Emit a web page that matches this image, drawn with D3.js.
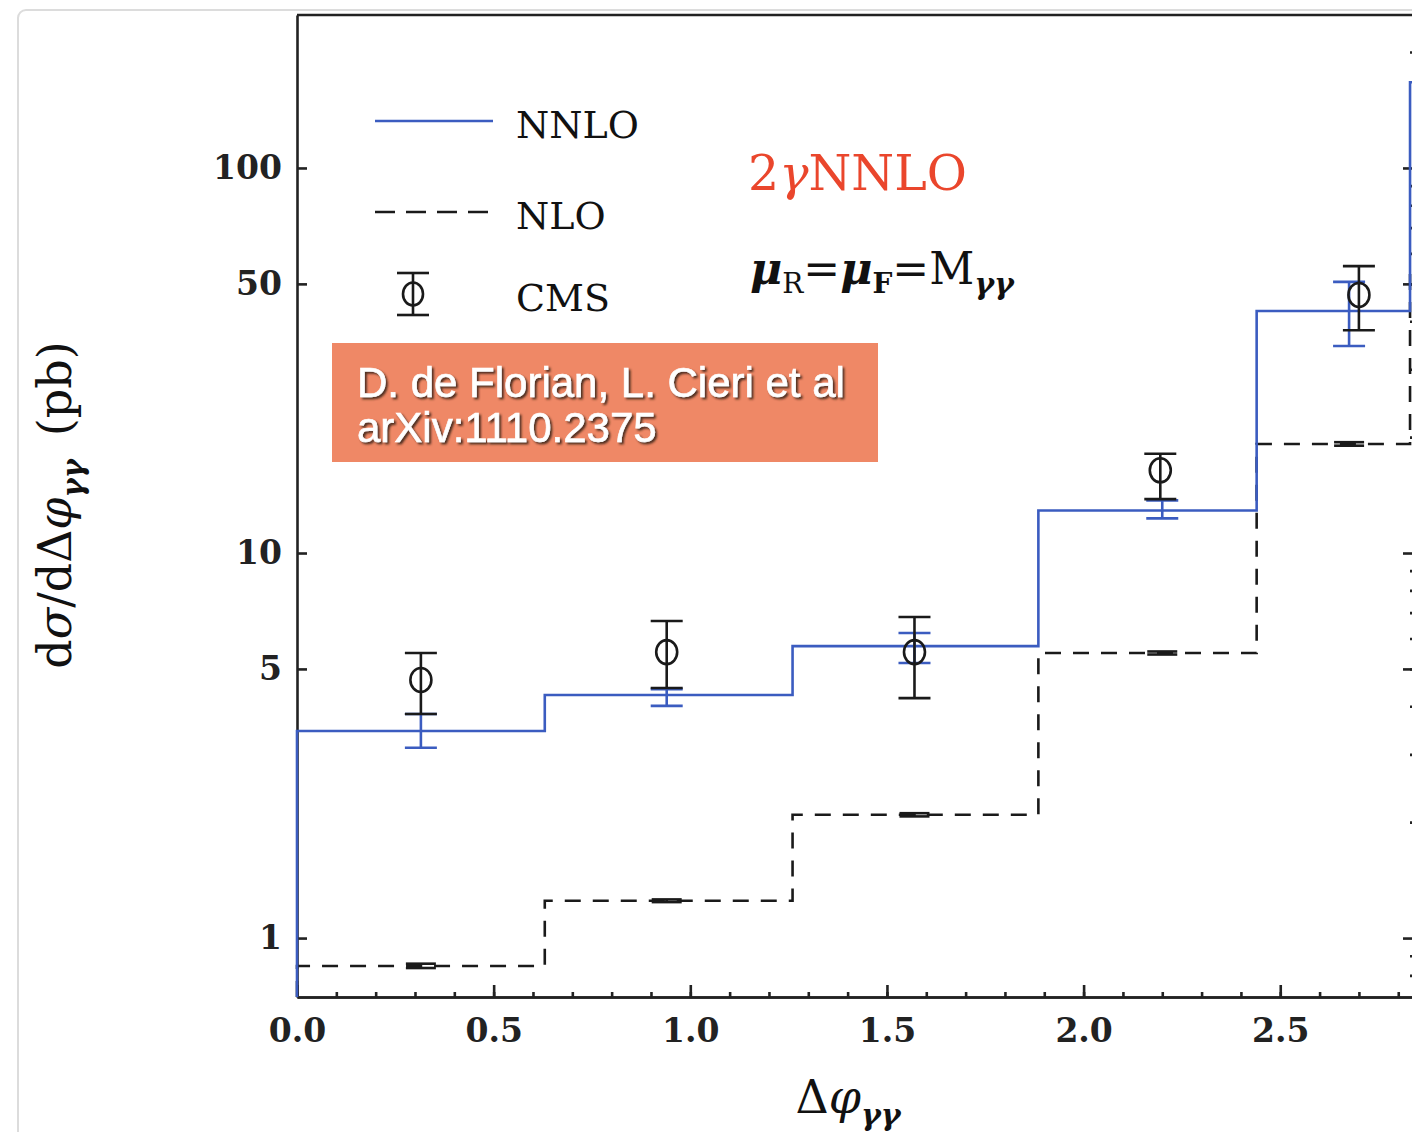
<!DOCTYPE html>
<html>
<head>
<meta charset="utf-8">
<script src="https://cdn.jsdelivr.net/npm/d3@7"></script>
<style>
  body { margin: 0; background: #fff; }
  svg { display: block; }
  .tick text { font-family: "DejaVu Serif", serif; font-weight: bold; font-size: 33px; fill: #222; }
  .serif { font-family: "DejaVu Serif", serif; fill: #111; }
</style>
</head>
<body>
<script>
// bin edges in delta-phi, and the two theory histograms (pb)
var binEdges = [0, 0.63, 1.26, 1.885, 2.44, 2.83, 3.1416];
var nnlo = [3.45, 4.28, 5.73, 12.9, 42.5, 167];
var nlo = [0.846, 1.25, 2.09, 5.5, 19.2, 56];

// theory error bars (scale variation)
var nnloErrX = [0.315, 0.94, 1.57, 2.2, 2.675];
var nnloErrLo = [3.12, 4.01, 5.18, 12.3, 34.5];
var nnloErrHi = [3.82, 4.43, 6.20, 13.7, 50.6];
var nloErrX = [0.315, 0.94, 1.57, 2.2, 2.675];
var nloErrLo = [0.836, 1.24, 2.07, 5.45, 19.0];
var nloErrHi = [0.858, 1.26, 2.11, 5.55, 19.4];

// CMS data points
var cmsX = [0.315, 0.94, 1.57, 2.195, 2.70];
var cmsY = [4.68, 5.53, 5.53, 16.4, 46.8];
var cmsLo = [3.82, 4.46, 4.20, 13.8, 37.9];
var cmsHi = [5.50, 6.66, 6.82, 18.1, 55.6];

var xMajor = [0, 0.5, 1.0, 1.5, 2.0, 2.5];
var yMajor = [1, 5, 10, 50, 100];
var legendLabels = ["NNLO", "NLO", "CMS"];

function run_d3 () {

    var W = 1412, H = 1132;
    var margin = {left: 297, top: 15, right: -1, bottom: 135};
    var pw = W - margin.left - margin.right,
        ph = H - margin.top - margin.bottom;

    var blue = "#3b5cc0", ink = "#1a1a1a";

    var svg = d3.select("body").append("svg")
        .attr("width", W)
        .attr("height", H);

    // faint slide frame behind the figure
    svg.append("rect")
        .attr("x", 18).attr("y", 10)
        .attr("width", W + 40).attr("height", H + 40)
        .attr("rx", 8)
        .attr("fill", "#fff")
        .attr("stroke", "#dcdcdc")
        .attr("stroke-width", 2);

    var defs = svg.append("defs");
    defs.append("clipPath").attr("id", "plotclip")
        .append("rect").attr("x", -3).attr("width", pw + 3).attr("height", ph);
    var f = defs.append("filter").attr("id", "shadow")
        .attr("x", "-10%").attr("y", "-20%").attr("width", "130%").attr("height", "160%");
    f.append("feDropShadow")
        .attr("dx", 2).attr("dy", 2).attr("stdDeviation", 1.3)
        .attr("flood-color", "#3a2018").attr("flood-opacity", 0.9);

    var g = svg.append("g")
        .attr("transform", "translate(" + margin.left + "," + margin.top + ")");

    // 1 unit of delta-phi is ~393 px, the picture is cut off on the right
    var x = d3.scaleLinear().domain([0, pw / 393.3]).range([0, pw]);
    var y = d3.scaleLog().domain([0.703, 249.6]).range([ph, 0]);

    // axes first, the histograms are drawn over them
    g.append("g")
        .attr("transform", "translate(0," + ph + ")")
        .call(d3.axisBottom(x).tickValues(xMajor)
            .tickFormat(d3.format(".1f"))
            .tickSizeInner(-12).tickSizeOuter(0).tickPadding(22));
    g.append("g")
        .attr("transform", "translate(0," + ph + ")")
        .call(d3.axisBottom(x).tickValues(d3.range(0, 2.85, 0.1))
            .tickFormat("").tickSizeInner(-5).tickSizeOuter(0));

    g.append("g")
        .call(d3.axisLeft(y).tickValues(yMajor)
            .tickFormat(d3.format("d"))
            .tickSizeInner(-10).tickSizeOuter(0).tickPadding(15));

    var minorY = [];
    [0.1, 1, 10, 100].forEach(function (dec) {
        d3.range(2, 10).forEach(function (k) {
            var v = dec * k;
            if (v > y.domain()[0] && v < y.domain()[1]) minorY.push(v);
        });
    });
    var right = g.append("g").attr("transform", "translate(" + pw + ",0)");
    right.call(d3.axisRight(y).tickValues(yMajor).tickFormat("")
        .tickSizeInner(-10).tickSizeOuter(0));
    right.append("g").call(d3.axisRight(y).tickValues(minorY).tickFormat("")
        .tickSizeInner(-3).tickSizeOuter(0));

    g.append("line")
        .attr("x1", 0).attr("x2", pw)
        .attr("y1", 0).attr("y2", 0);

    g.selectAll(".domain, .tick line, g > line")
        .attr("stroke", "#222")
        .attr("stroke-width", 2.6);

    // histograms
    var line = d3.line()
        .x(function (d) { return x(d[0]); })
        .y(function (d) { return y(d[1]); })
        .curve(d3.curveStepAfter);

    function stepPoints(vals) {
        var pts = [[binEdges[0], y.domain()[0]]];
        vals.forEach(function (v, i) { pts.push([binEdges[i], v]); });
        pts.push([binEdges[binEdges.length - 1], vals[vals.length - 1]]);
        return pts;
    }

    var plot = g.append("g").attr("clip-path", "url(#plotclip)");

    plot.append("path")
        .attr("d", line(stepPoints(nlo)))
        .attr("fill", "none")
        .attr("stroke", ink)
        .attr("stroke-width", 2.6)
        .attr("stroke-dasharray", "16,12");

    plot.append("path")
        .attr("d", line(stepPoints(nnlo)))
        .attr("fill", "none")
        .attr("stroke", blue)
        .attr("stroke-width", 2.6);

    // error bars
    function errorBars(xs, lo, hi, color, capW) {
        var eb = plot.append("g").attr("stroke", color).attr("stroke-width", 2.6);
        xs.forEach(function (xv, i) {
            var cx = x(xv);
            eb.append("line")
                .attr("x1", cx).attr("x2", cx)
                .attr("y1", y(lo[i])).attr("y2", y(hi[i]));
            [lo[i], hi[i]].forEach(function (v) {
                eb.append("line")
                    .attr("x1", cx - capW / 2).attr("x2", cx + capW / 2)
                    .attr("y1", y(v)).attr("y2", y(v));
            });
        });
    }
    errorBars(nloErrX, nloErrLo, nloErrHi, ink, 30);
    errorBars(nnloErrX, nnloErrLo, nnloErrHi, blue, 32);
    errorBars(cmsX, cmsLo, cmsHi, ink, 32);

    plot.selectAll("ellipse.cms")
        .data(cmsY)
        .enter().append("ellipse")
        .attr("class", "cms")
        .attr("cx", function (d, i) { return x(cmsX[i]); })
        .attr("cy", function (d) { return y(d); })
        .attr("rx", 10.5).attr("ry", 12)
        .attr("fill", "none")
        .attr("stroke", ink)
        .attr("stroke-width", 2.6);

    // axis titles
    var xt = svg.append("text")
        .attr("class", "serif")
        .attr("x", 848).attr("y", 1113)
        .attr("text-anchor", "middle")
        .attr("font-size", 46);
    xt.append("tspan").text("Δ");
    xt.append("tspan").attr("font-style", "italic").text("φ");
    xt.append("tspan").attr("font-size", 30).attr("font-style", "italic")
        .attr("font-weight", "bold").attr("dy", 12).text("γγ");

    var yt = svg.append("text")
        .attr("class", "serif")
        .attr("transform", "translate(71,505) rotate(-90)")
        .attr("text-anchor", "middle")
        .attr("font-size", 46);
    yt.append("tspan").text("d");
    yt.append("tspan").attr("font-style", "italic").text("σ");
    yt.append("tspan").text("/dΔ");
    yt.append("tspan").attr("font-style", "italic").text("φ");
    yt.append("tspan").attr("font-size", 29).attr("font-style", "italic")
        .attr("font-weight", "bold").attr("dy", 12).text("γγ");
    yt.append("tspan").attr("dy", -12).text("\u2002(pb)");

    // legend
    var legRows = [121, 212, 294];
    var leg = svg.append("g");
    leg.append("line")
        .attr("x1", 375).attr("x2", 493)
        .attr("y1", legRows[0]).attr("y2", legRows[0])
        .attr("stroke", blue).attr("stroke-width", 2.6);
    leg.append("line")
        .attr("x1", 375).attr("x2", 490)
        .attr("y1", legRows[1]).attr("y2", legRows[1])
        .attr("stroke", ink).attr("stroke-width", 2.6)
        .attr("stroke-dasharray", "20,11");
    var sym = leg.append("g").attr("stroke", ink).attr("stroke-width", 2.6).attr("fill", "none");
    sym.append("line").attr("x1", 413).attr("x2", 413).attr("y1", legRows[2] - 21).attr("y2", legRows[2] + 21);
    sym.append("line").attr("x1", 397).attr("x2", 429).attr("y1", legRows[2] - 21).attr("y2", legRows[2] - 21);
    sym.append("line").attr("x1", 397).attr("x2", 429).attr("y1", legRows[2] + 21).attr("y2", legRows[2] + 21);
    sym.append("ellipse").attr("cx", 413).attr("cy", legRows[2]).attr("rx", 10).attr("ry", 11.5);

    leg.selectAll("text.lab")
        .data(legendLabels)
        .enter().append("text")
        .attr("class", "serif lab")
        .attr("x", 516)
        .attr("y", function (d, i) { return legRows[i] + 17; })
        .attr("font-size", 38)
        .text(function (d) { return d; });

    // annotations
    var red = svg.append("text")
        .attr("class", "serif")
        .attr("x", 748).attr("y", 190)
        .attr("font-size", 49)
        .style("fill", "#ea462c");
    red.append("tspan").text("2");
    red.append("tspan").attr("font-style", "italic").text("γ");
    red.append("tspan").text("NNLO");

    var mu = svg.append("text")
        .attr("class", "serif")
        .attr("x", 750).attr("y", 284)
        .attr("font-size", 44);
    mu.append("tspan").attr("font-style", "italic").attr("font-weight", "bold").text("μ");
    mu.append("tspan").attr("font-size", 28).attr("dy", 9).text("R");
    mu.append("tspan").attr("dy", -9).text("=");
    mu.append("tspan").attr("font-style", "italic").attr("font-weight", "bold").text("μ");
    mu.append("tspan").attr("font-size", 28).attr("font-weight", "bold").attr("dy", 9).text("F");
    mu.append("tspan").attr("dy", -9).text("=M");
    mu.append("tspan").attr("font-size", 30).attr("font-style", "italic")
        .attr("font-weight", "bold").attr("dy", 10).text("γγ");

    // reference box
    svg.append("rect")
        .attr("x", 332).attr("y", 343)
        .attr("width", 546).attr("height", 119)
        .attr("fill", "#ef8866");
    var ref = svg.append("text")
        .attr("font-family", "'Liberation Sans', Arial, sans-serif")
        .attr("font-size", 42)
        .attr("fill", "#fff")
        .attr("stroke", "#fff")
        .attr("stroke-width", 0.6)
        .attr("filter", "url(#shadow)");
    ref.append("tspan").attr("x", 357).attr("y", 397).text("D. de Florian, L. Cieri et al");
    ref.append("tspan").attr("x", 357).attr("y", 442).text("arXiv:1110.2375");
}

window.onload = run_d3;
</script>
</body>
</html>
